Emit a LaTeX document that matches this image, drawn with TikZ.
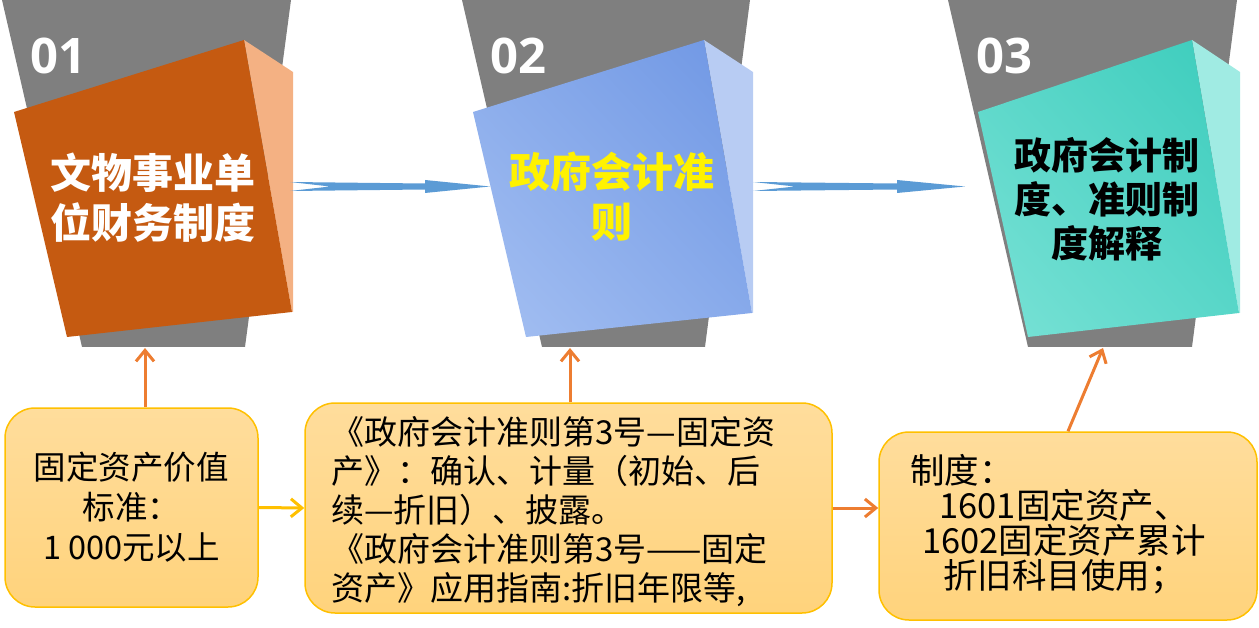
\documentclass[tikz,border=0pt]{standalone}
\usepackage{fontspec}
\setmainfont{Noto Sans CJK SC}
\newfontfamily\numfont{Open Sans}
\usetikzlibrary{arrows.meta,shadings}
\definecolor{trapgray}{HTML}{7F7F7F}
\definecolor{cubeA}{HTML}{C55A11}
\definecolor{cubeAside}{HTML}{F4B183}
\definecolor{cubeBdark}{HTML}{6E96E4}
\definecolor{cubeBlight}{HTML}{A5C0F2}
\definecolor{cubeBmid}{HTML}{89ABEB}
\definecolor{cubeBside}{HTML}{B8CCF3}
\definecolor{cubeCdark}{HTML}{3BCCBC}
\definecolor{cubeClight}{HTML}{7AE2D6}
\definecolor{cubeCmid}{HTML}{5AD7C9}
\definecolor{cubeCside}{HTML}{A0EBE3}
\definecolor{flowblue}{HTML}{5B9BD5}
\definecolor{boxtop}{HTML}{FFDD9C}
\definecolor{boxbot}{HTML}{FFD37C}
\definecolor{boxline}{HTML}{FFC000}
\definecolor{arrorange}{HTML}{ED7D31}
\definecolor{arryellow}{HTML}{FFC000}
\tikzset{
  trap/.style={fill=trapgray},
  numtxt/.style={font=\numfont\bfseries\fontsize{49}{50}\selectfont, text=white, anchor=base west, inner sep=0pt},
  cubetxt/.style={font=\bfseries\fontsize{41}{50}\selectfont, align=center, inner sep=0pt},
  box/.style={draw=boxline, line width=1.5pt, rounded corners=30pt, top color=boxtop, bottom color=boxbot, inner sep=0pt},
  boxtxt/.style={font=\fontsize{33}{39}\selectfont, inner sep=0pt},
  uparrow/.style={draw=arrorange, line width=3pt, -{Straight Barb[length=11pt,width=18pt]}},
  sidearrow/.style={line width=3pt, -{Straight Barb[length=11pt,width=18pt]}}
}
\begin{document}
\begin{tikzpicture}[x=1pt,y=-1pt]
\useasboundingbox (0,0) rectangle (1259,628);

% ---------- trapezoids ----------
\fill[trap] (2,0) -- (291,0) -- (245,347) -- (82,347) -- cycle;
\fill[trap] (462,0) -- (750,0) -- (705,347) -- (542,347) -- cycle;
\fill[trap] (948,0) -- (1237,0) -- (1192,347) -- (1028,347) -- cycle;
\coordinate (t1) at (145,348);
\coordinate (t2) at (570,348);
\coordinate (t3) at (1103,348);

% ---------- numbers ----------
\node[numtxt] (n1) at (30,74) {01};
\node[numtxt] (n2) at (490,74) {02};
\node[numtxt] (n3) at (976,74) {03};

% ---------- cube 1 ----------
\fill[cubeAside] (244,40) -- (293,72) -- (293,312) -- (292,312) -- cycle;
\fill[cubeA] (14,112) -- (244,40) -- (292,312) -- (67,337) -- cycle;
\node[cubetxt, text=white] (c1) at (153,198) {文物事业单\\位财务制度};

% ---------- cube 2 ----------
\fill[cubeBside] (704,40) -- (753,72) -- (753,313) -- (752,313) -- cycle;
\shade[upper right=cubeBdark, lower left=cubeBlight, upper left=cubeBmid, lower right=cubeBmid]
  (473,112) -- (704,40) -- (752,313) -- (526,337) -- cycle;
\node[cubetxt, text=yellow] (c2) at (612,197) {政府会计准\\则};

% ---------- cube 3 ----------
\fill[cubeCside] (1192,40) -- (1240,72) -- (1240,313) -- (1239,313) -- cycle;
\shade[upper right=cubeCdark, lower left=cubeClight, upper left=cubeCmid, lower right=cubeCmid]
  (978,112) -- (1192,40) -- (1239,313) -- (1028,337) -- cycle;
\node[cubetxt, text=black, font=\bfseries\fontsize{37}{44}\selectfont] (c3) at (1107,199) {政府会计制\\度、准则制\\度解释};

% ---------- blue flow arrows ----------
\fill[flowblue] (290,182) -- (425,183.5) -- (425,180) -- (490,186.5) -- (425,193) -- (425,189.5) -- (290,191) -- (330,186.5) -- cycle;
\fill[flowblue] (753,182) -- (897,183.5) -- (897,180) -- (965,186.5) -- (897,193) -- (897,189.5) -- (753,191) -- (795,186.5) -- cycle;

% ---------- bottom boxes ----------
\node[box, minimum width=253pt, minimum height=199pt, align=center, font=\fontsize{32.5}{40}\selectfont] (b1) at (131.5,507.5) {固定资产价值\\标准：\\1 000元以上};

\node[box, minimum width=527pt, minimum height=210pt] (b2) at (568.5,508) {};
\node[boxtxt, anchor=north west, align=left] (b2t) at (331,416) {《政府会计准则第3号—固定资\\产》：确认、计量（初始、后\\续—折旧）、披露。\\《政府会计准则第3号——固定\\资产》应用指南:折旧年限等,};

\node[box, minimum width=378pt, minimum height=188pt] (b3) at (1068,526) {};
\node[boxtxt, align=center, font=\fontsize{34.5}{35}\selectfont] (b3t) at (1064,524) {\makebox[8.9em][l]{制度：}\\1601固定资产、\\1602固定资产累计\\折旧科目使用；};

% ---------- connectors ----------
\draw[uparrow] (t1 |- b1.north) -- (t1);
\draw[uparrow] (t2 |- b2.north) -- (t2);
\draw[uparrow] (b3.north) -- (t3);
\draw[sidearrow, draw=arryellow] (b1.east) -- (b2.west);
\draw[sidearrow, draw=arrorange] (b2.east) -- (b3.west |- b2.east);
\end{tikzpicture}
\end{document}
